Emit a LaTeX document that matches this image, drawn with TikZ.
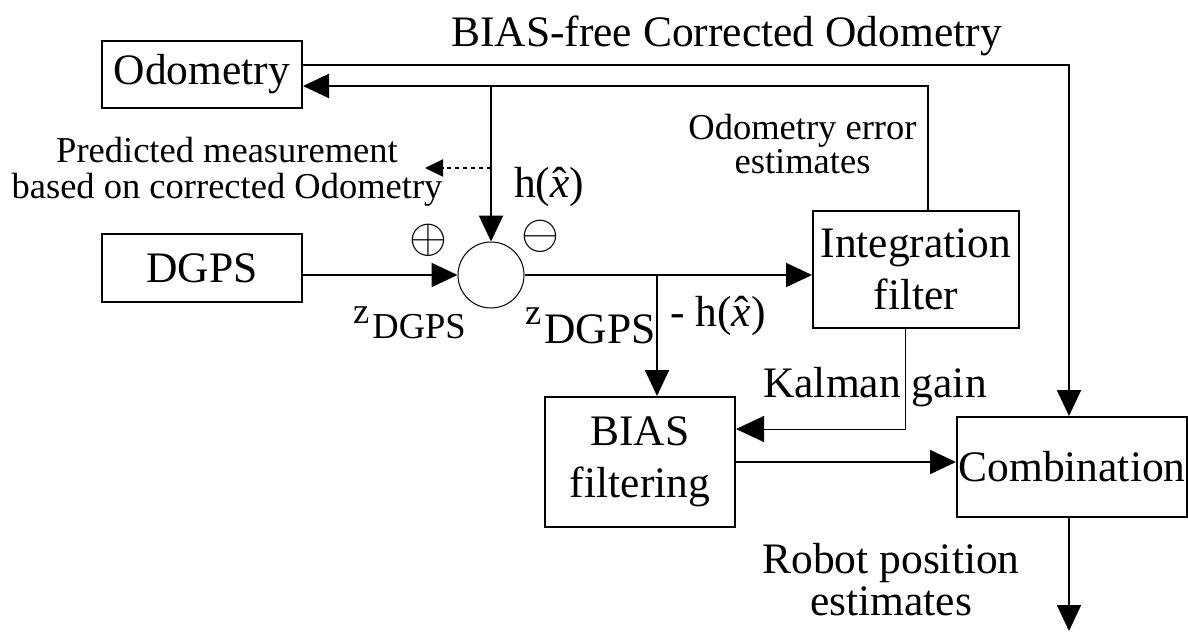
\documentclass[tikz,border=0pt]{standalone}
\usepackage{fontspec}
\setmainfont{Liberation Serif}
\usetikzlibrary{arrows.meta}
\newcommand{\xhat}{\ooalign{\textit{x}\cr\hidewidth ˆ\hidewidth\cr}}
\newcommand{\bigsym}[1]{\scalebox{2.35}{\fontsize{20}{20}\selectfont$#1$}}
\begin{document}
\begin{tikzpicture}[x=1pt,y=-1pt,
  big/.style={font=\fontsize{43.5}{52}\selectfont},
  small/.style={font=\fontsize{36.5}{36}\selectfont},
  box/.style={draw, line width=2pt, inner sep=0pt, big, align=center},
  conn/.style={line width=2pt},
  arr/.style={-{Triangle[length=26pt,width=24pt]}},
  thinline/.style={line width=1pt},
  lbl/.style={inner sep=0pt},
  sym/.style={inner sep=0pt}
]
\useasboundingbox (0,0) rectangle (1188,632);

% boxes
\node[box, minimum width=200pt, minimum height=67pt] (odo) at (202,74.5) {Odometry};
\node[box, minimum width=200pt, minimum height=68pt] (dgps) at (202,268) {DGPS};
\node[box, minimum width=206pt, minimum height=117pt] (integ) at (916,269.5) {Integration\\filter};
\node[box, minimum width=190pt, minimum height=130pt] (bias) at (640,462) {BIAS\\filtering};
\node[box, minimum width=230pt, minimum height=100pt] (comb) at (1072,467) {Combination};
\node[circle, draw, thinline, minimum size=66pt, inner sep=0pt] (sum) at (491,275) {};

% helper coordinates
\coordinate (tr) at (1069,65);
\coordinate (fb) at (928,86);
\coordinate (j1) at (491,86);
\coordinate (d1) at (491,168);
\coordinate (d2) at (425,168);
\coordinate (j2) at (657,275);
\coordinate (kg) at (905,429);
\coordinate (out) at (1069,631);

% connectors
\draw[conn,arr] (odo.east |- tr) -- (tr) -- (tr |- comb.north);
\draw[conn,arr] (integ.north -| fb) -- (fb) -- (odo.east |- fb);
\draw[conn,arr] (j1) -- (sum.north);
\draw[conn,dash pattern=on 4pt off 4pt,-{Triangle[length=18pt,width=17pt]}] (d1) -- (d2);
\draw[conn,arr] (dgps.east |- sum.west) -- (sum.west);
\draw[conn,arr] (sum.east) -- (integ.west |- sum.east);
\draw[conn,arr] (j2) -- (j2 |- bias.north);
\draw[thinline,-{Triangle[length=28pt,width=26pt]}] (integ.south -| kg) -- (kg) -- (bias.east |- kg);
\draw[conn,arr] (bias.east) -- (comb.west |- bias.east);
\draw[conn,arr] (out |- comb.south) -- (out);

% labels
\node[big, lbl, anchor=base] (title) at (726.5,46) {BIAS-free Corrected Odometry};
\node[small, lbl, align=center, anchor=base] (pred) at (227,198) {Predicted measurement\\based on corrected Odometry};
\node[font=\fontsize{36.5}{29}\selectfont, lbl, align=center, anchor=base] (oee) at (802.5,173) {Odometry error\\estimates};
\node[big, lbl, anchor=base west] (hx) at (514,197) {h(\xhat)};
\node[sym] (plus) at (428,240) {\bigsym{\oplus}};
\node[sym] (minus) at (540,236) {\bigsym{\ominus}};
\node[lbl, anchor=base west, font=\fontsize{36.5}{36}\selectfont] (zl) at (353,323) {z\kern3pt\raisebox{-15pt}{DGPS}};
\node[lbl, anchor=base west, font=\fontsize{36.5}{36}\selectfont] (zr) at (525,324) {z\kern3pt\raisebox{-19pt}{\fontsize{43.5}{52}\selectfont DGPS}};
\node[big, lbl, anchor=base west] (mh) at (670,326) {- h(\xhat)};
\node[big, lbl, anchor=base] (kal) at (875,397) {Kalman gain};
\node[font=\fontsize{43.5}{42}\selectfont, lbl, align=center, anchor=base] (robot) at (891,615) {Robot position\\estimates};
\end{tikzpicture}
\end{document}
